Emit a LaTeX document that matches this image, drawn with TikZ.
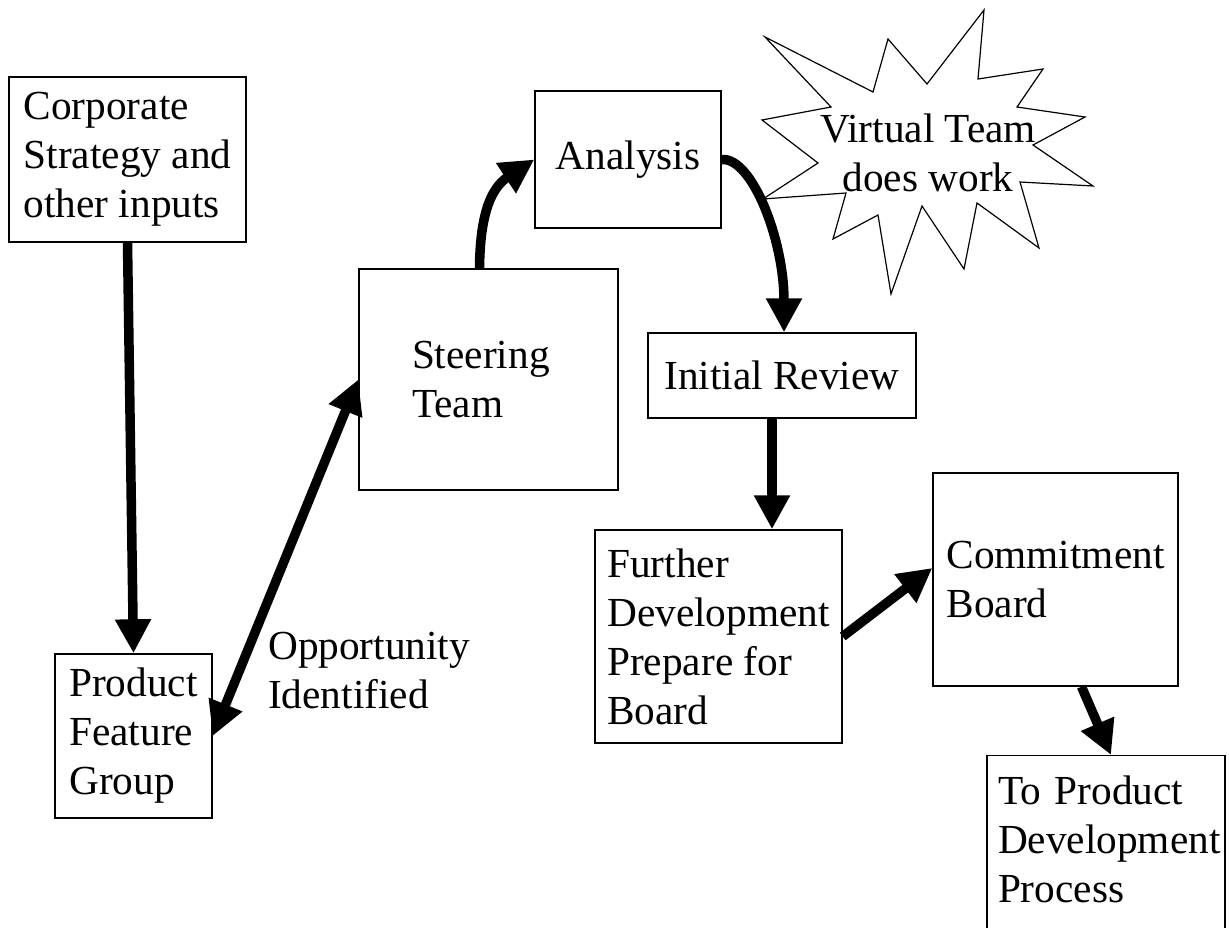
\documentclass[tikz,border=0pt]{standalone}
\usepackage{fontspec}
\setmainfont{Liberation Serif}
\usetikzlibrary{arrows.meta}
\hyphenpenalty=10000

\begin{document}
\begin{tikzpicture}[x=1pt,y=-1pt,>={Triangle[length=34pt,width=34pt]},
    box/.style={draw,line width=1.4pt,rectangle,align=left,inner sep=0pt,font=\fontsize{41.3}{49}\selectfont},
    arr/.style={->,line width=9.5pt},
    lbl/.style={align=left,inner sep=0pt,font=\fontsize{41.3}{49}\selectfont}]
\useasboundingbox (0,0) rectangle (1229,928);

\node[box,minimum width=237pt,minimum height=165pt] (corp)  at (127.5,159.5)  {Corporate\\Strategy and\\other inputs};
\node[box,minimum width=157pt,minimum height=164pt] (prod)  at (133.5,736)    {Product\\Feature\\Group};
\node[box,text width=153pt,inner xsep=53pt,minimum height=221pt] (steer) at (488.5,379.5) {Steering\\Team};
\node[box,minimum width=186pt,minimum height=137pt] (ana)   at (628,159.5)    {Analysis};
\node[box,minimum width=268pt,minimum height=85pt]  (init)  at (782,375.5)    {Initial Review};
\node[box,minimum width=247pt,minimum height=213pt] (fur)   at (718.5,636.5)  {Further\\Development\\Prepare for\\Board};
\node[box,minimum width=245pt,minimum height=213pt] (com)   at (1055.5,579.5) {Commitment\\Board};
\node[box,text width=216pt,inner xsep=11pt,inner ysep=19.7pt,text depth=118pt,anchor=north] (toprod) at (1106,755) {To Product\\Development\\Process};

% virtual team burst
\draw[line width=1.2pt] (765,37) -- (873,92) -- (888,39) -- (927,84) -- (984,10) -- (978,79)
  -- (1043,69) -- (1017,107) -- (1085,117) -- (1033,145) -- (1093,186) -- (1020,182)
  -- (1039,248) -- (977,203) -- (964,269) -- (922,206) -- (891,294) -- (878,215)
  -- (833,239) -- (846,193) -- (763,199) -- (818,163) -- (762,120) -- (831,107) -- cycle;
\node[lbl,align=center] (vt) at (928,153) {Virtual Team\\does work};

\node[lbl,anchor=north west] (opp) at (268,632) {Opportunity\\Identified};

\draw[arr] (corp.south) -- (prod.north);
\draw[arr,<->] (prod.east) -- (steer.west);
\draw[arr] ([xshift=-9pt]steer.north) .. controls (480,222) and (488,190) .. (ana.west);
\draw[arr] (ana.east) .. controls (752,157) and (784,240) .. ([xshift=2pt]init.north);
\draw[arr] ([xshift=-10pt]init.south) -- ([xshift=-10pt]init.south |- fur.north);
\draw[arr] (fur.east) -- ([yshift=11.5pt]com.west);
\draw[arr] ([xshift=26pt]com.south) -- ([xshift=5pt]toprod.north);
\end{tikzpicture}
\end{document}
